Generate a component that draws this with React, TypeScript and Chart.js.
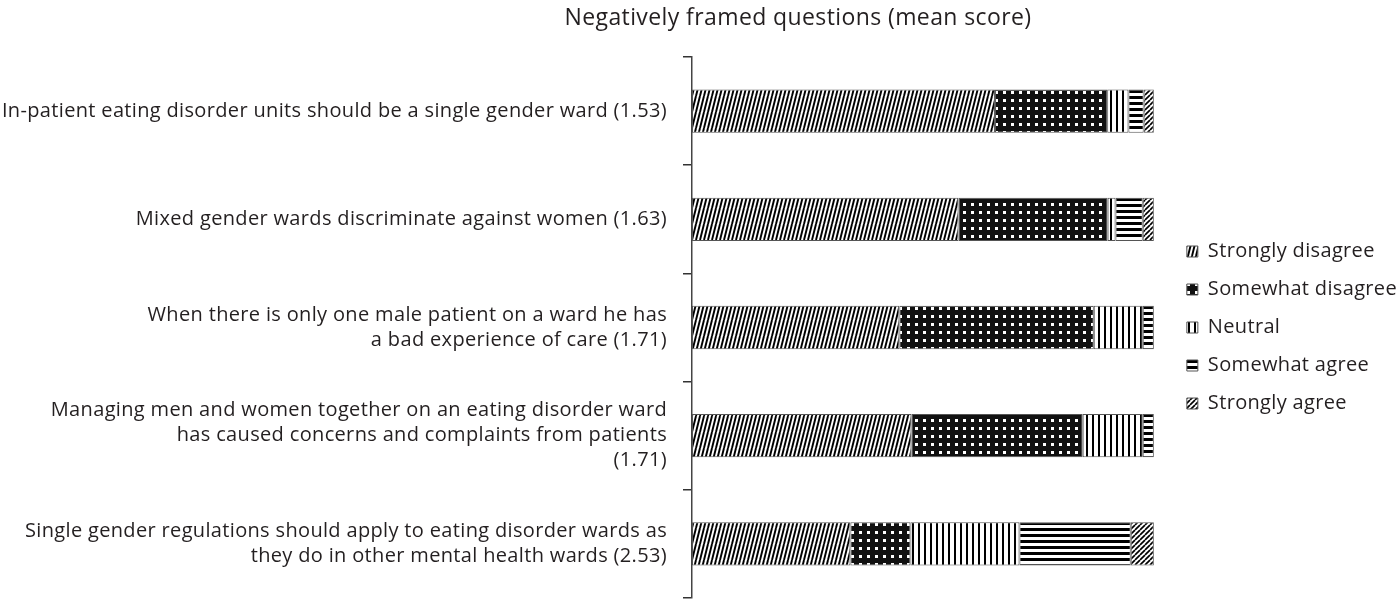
import React, { useEffect, useRef } from "react";
import { Chart, registerables } from "chart.js";

Chart.register(...registerables);

const TITLE = "Negatively framed questions (mean score)";

const categories: (string | string[])[] = [
  "In-patient eating disorder units should be a single gender ward (1.53)",
  "Mixed gender wards discriminate against women (1.63)",
  ["When there is only one male patient on a ward he has", "a bad experience of care (1.71)"],
  [
    "Managing men and women together on an eating disorder ward",
    "has caused concerns and complaints from patients",
    "(1.71)",
  ],
  [
    "Single gender regulations should apply to eating disorder wards as",
    "they do in other mental health wards (2.53)",
  ],
];

const seriesNames = ["Strongly disagree", "Somewhat disagree", "Neutral", "Somewhat agree", "Strongly agree"];

const stronglyDisagree = [65.6, 57.7, 44.9, 47.5, 34.3];
const somewhatDisagree = [24.3, 32.3, 42.1, 37.1, 13.0];
const neutral = [4.6, 1.7, 10.6, 13.0, 23.6];
const somewhatAgree = [3.3, 5.9, 2.4, 2.4, 24.1];
const stronglyAgree = [2.2, 2.4, 0, 0, 5.0];

const TEXT = "#231f20";
const FONT = "'Open Sans'";
const SPACING = "0.34px";

function makePattern(kind: string): CanvasPattern | string {
  const c = document.createElement("canvas");
  let w = 6,
    h = 6;
  if (kind === "steep") {
    w = 4;
    h = 16;
  } else if (kind === "diag") {
    w = 5;
    h = 5;
  } else if (kind === "dots") {
    w = 8;
    h = 8;
  }
  c.width = w;
  c.height = h;
  const g = c.getContext("2d");
  if (!g) return "#000";
  if (kind === "steep" || kind === "diag") {
    g.fillStyle = "#fff";
    g.fillRect(0, 0, w, h);
    g.strokeStyle = "#000";
    g.lineWidth = kind === "steep" ? 1.9 : 1.7;
    for (let k = -2 * w; k <= 2 * w; k += w) {
      g.beginPath();
      g.moveTo(k, h);
      g.lineTo(k + w, 0);
      g.stroke();
    }
  } else if (kind === "dots") {
    g.fillStyle = "#111";
    g.fillRect(0, 0, w, h);
    g.fillStyle = "#fff";
    g.fillRect(3, 3, 3, 3);
  } else if (kind === "vert") {
    g.fillStyle = "#fff";
    g.fillRect(0, 0, w, h);
    g.fillStyle = "#000";
    g.fillRect(0, 0, 2, h);
  } else if (kind === "horiz") {
    g.fillStyle = "#fff";
    g.fillRect(0, 0, w, h);
    g.fillStyle = "#000";
    g.fillRect(0, 0, w, 3);
  }
  const p = g.createPattern(c, "repeat");
  return p || "#000";
}

const spacingPlugin = {
  id: "letterSpacing",
  beforeUpdate(chart: any) {
    (chart.ctx as any).letterSpacing = SPACING;
  },
  beforeDraw(chart: any) {
    (chart.ctx as any).letterSpacing = SPACING;
  },
};

const titlePlugin = {
  id: "customTitle",
  afterDraw(chart: any) {
    const ctx = chart.ctx;
    ctx.save();
    (ctx as any).letterSpacing = "0.4px";
    ctx.font = `23px ${FONT}`;
    ctx.fillStyle = TEXT;
    ctx.textAlign = "center";
    ctx.textBaseline = "alphabetic";
    ctx.fillText(TITLE, 798, 25);
    ctx.restore();
  },
};

export default function App() {
  const ref = useRef<HTMLCanvasElement>(null);

  useEffect(() => {
    if (!ref.current) return;
    const kinds = ["steep", "dots", "vert", "horiz", "diag"];
    const values = [stronglyDisagree, somewhatDisagree, neutral, somewhatAgree, stronglyAgree];
    const datasets = seriesNames.map((name, i) => ({
      label: name,
      data: values[i],
      backgroundColor: makePattern(kinds[i]) as any,
      borderColor: "#555",
      borderWidth: 1,
      borderSkipped: false as any,
      categoryPercentage: 1,
      barPercentage: 0.4,
    }));

    const chart = new Chart(ref.current, {
      type: "bar",
      data: { labels: categories as any, datasets },
      options: {
        indexAxis: "y",
        responsive: false,
        animation: false,
        layout: { padding: { top: 57, bottom: 3, left: 0, right: -7 } },
        scales: {
          x: {
            stacked: true,
            display: false,
            min: 0,
            max: 103.25,
          },
          y: {
            stacked: true,
            afterFit(scale: any) {
              scale.width = 692;
              scale.paddingTop = 0;
              scale.paddingBottom = 0;
            },
            grid: {
              offset: true,
              drawOnChartArea: false,
              drawTicks: true,
              tickLength: 9,
              color: "#333",
              lineWidth: 1.5,
            },
            border: { display: true, color: "#444", width: 1.5 },
            ticks: {
              padding: 16,
              color: TEXT,
              font: { family: FONT, size: 20, lineHeight: 1.25 },
            },
          },
        },
        plugins: {
          title: { display: false },
          tooltip: { enabled: false },
          legend: {
            position: "right",
            align: "center",
            labels: {
              boxWidth: 11,
              boxHeight: 11,
              padding: 18,
              color: TEXT,
              font: { family: FONT, size: 20 },
            },
          },
        },
      },
      plugins: [spacingPlugin, titlePlugin],
    });
    return () => chart.destroy();
  }, []);

  return (
    <div style={{ position: "absolute", left: 0, top: 0, width: 1400, height: 601 }}>
      <canvas ref={ref} width={1400} height={601} style={{ display: "block" }} />
    </div>
  );
}
